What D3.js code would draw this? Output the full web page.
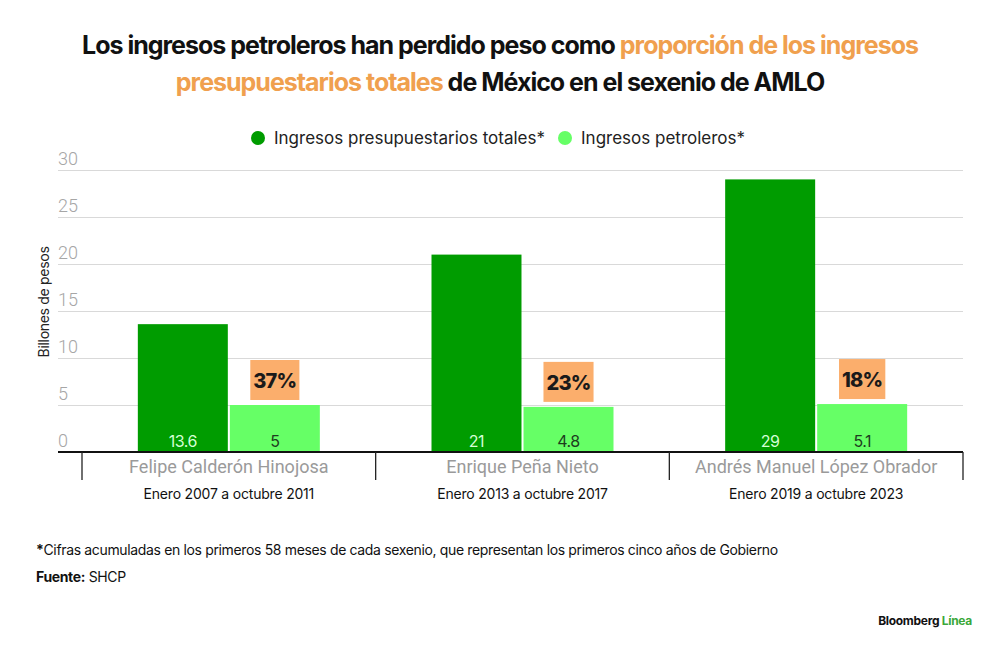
<!DOCTYPE html>
<html>
    <head>
        <meta charset="utf-8">
        <title>Ingresos petroleros</title>
        <style>
            body { margin: 0; background: #fff; font-family: Inter, "Noto Sans", sans-serif; }
            svg { display: block; }
        </style>
        <script src="https://cdnjs.cloudflare.com/ajax/libs/d3/7.8.5/d3.min.js" charset="utf-8"></script>
    </head>
    <body>
        <div id="chart"></div>
        <script>
            // data
            const presidents = ["Felipe Calderón Hinojosa", "Enrique Peña Nieto", "Andrés Manuel López Obrador"];
            const periods = ["Enero 2007 a octubre 2011", "Enero 2013 a octubre 2017", "Enero 2019 a octubre 2023"];
            const seriesNames = ["Ingresos presupuestarios totales*", "Ingresos petroleros*"];
            const totalIncome = [13.6, 21, 29];
            const oilIncome = [5, 4.8, 5.1];
            const oilShare = ["37%", "23%", "18%"];
            const yTicks = [0, 5, 10, 15, 20, 25, 30];

            const w = 1000, h = 650;
            const colors = ["#009c00", "#66ff66"];
            const orange = "#f0a04e";

            const svg = d3.select("#chart").append("svg")
                .attr("width", w)
                .attr("height", h);

            // title (two lines, part of it orange)
            const title = svg.append("text")
                .attr("text-anchor", "middle")
                .style("font-size", "25px")
                .style("font-weight", 700)
                .style("letter-spacing", "-1px");
            const l1 = title.append("tspan").attr("x", 500).attr("y", 54);
            l1.append("tspan").attr("fill", "#111").text("Los ingresos petroleros han perdido peso como ");
            l1.append("tspan").attr("fill", orange).text("proporción de los ingresos");
            const l2 = title.append("tspan").attr("x", 500).attr("y", 91);
            l2.append("tspan").attr("fill", orange).text("presupuestarios totales");
            l2.append("tspan").attr("fill", "#111").text(" de México en el sexenio de AMLO");

            // legend
            const legend = svg.append("g").attr("transform", "translate(258,138)");
            let lx = 0;
            seriesNames.forEach((name, i) => {
                const g = legend.append("g").attr("transform", "translate(" + lx + ",0)");
                g.append("circle").attr("r", 7).attr("fill", colors[i]);
                const t = g.append("text")
                    .attr("x", 16).attr("y", 6)
                    .style("font-size", "17px")
                    .style("letter-spacing", "0px")
                    .attr("fill", "#222")
                    .text(name);
                lx += 16 + t.node().getComputedTextLength() + 20;
            });

            // scales
            const x = d3.scaleBand().domain(presidents).range([82, 963]);
            const groupW = 182;
            const xSub = d3.scaleBand().domain(seriesNames).range([0, groupW]).paddingInner(0.022);
            const y = d3.scaleLinear().domain([0, 30]).range([452, 170]);

            // gridlines + tick labels
            const yAxis = d3.axisLeft(y).tickValues(yTicks).tickSize(-(963 - 58)).tickFormat(d3.format("d"));
            const gy = svg.append("g").attr("transform", "translate(58,0)").call(yAxis);
            gy.select(".domain").remove();
            gy.selectAll(".tick line").attr("stroke", "#d9d9d9").attr("stroke-width", 1.2);
            gy.selectAll(".tick text")
                .attr("x", 0).attr("dy", "-6px")
                .attr("text-anchor", "start")
                .attr("fill", "#a6a6a6")
                .style("font-size", "18px")
                .style("font-weight", 300)
                .style("font-family", "Roboto, sans-serif");

            // y axis title
            svg.append("text")
                .attr("transform", "translate(49,302) rotate(-90)")
                .attr("text-anchor", "middle")
                .style("font-size", "14px")
                .style("letter-spacing", "-0.3px")
                .attr("fill", "#222")
                .text("Billones de pesos");

            // bars
            const groups = svg.selectAll(".grp")
                .data(presidents)
                .enter()
                .append("g")
                .attr("class", "grp")
                .attr("transform", d => "translate(" + (x(d) + (x.bandwidth() - groupW) / 2) + ",0)");

            const barData = (d, i) => [
                {s: seriesNames[0], v: totalIncome[i], c: colors[0], lc: "#d5ffd5"},
                {s: seriesNames[1], v: oilIncome[i], c: colors[1], lc: "#1e3d1e"}
            ];

            groups.selectAll("rect.bar")
                .data(barData)
                .enter()
                .append("rect")
                .attr("class", "bar")
                .attr("x", d => xSub(d.s))
                .attr("y", d => y(d.v))
                .attr("width", xSub.bandwidth())
                .attr("height", d => y(0) - y(d.v))
                .attr("fill", d => d.c);

            groups.selectAll("text.val")
                .data(barData)
                .enter()
                .append("text")
                .attr("class", "val")
                .attr("x", d => xSub(d.s) + xSub.bandwidth() / 2)
                .attr("y", y(0) - 5)
                .attr("text-anchor", "middle")
                .attr("fill", d => d.lc)
                .style("font-size", "16px")
                .style("letter-spacing", "-0.5px")
                .text(d => d.v);

            // share boxes above the oil bars
            groups.each(function(d, i) {
                const g = d3.select(this);
                const cx = xSub(seriesNames[1]) + xSub.bandwidth() / 2;
                const top = y(oilIncome[i]) - 5;
                const t = g.append("text")
                    .attr("x", cx)
                    .attr("y", top - 12)
                    .attr("text-anchor", "middle")
                    .attr("fill", "#1a1a1a")
                    .style("font-size", "20px")
                    .style("font-weight", 800)
                    .style("letter-spacing", "-0.8px")
                    .text(oilShare[i]);
                const bw = t.node().getComputedTextLength() + 6;
                g.insert("rect", "text")
                    .attr("x", cx - bw / 2)
                    .attr("y", top - 40)
                    .attr("width", bw)
                    .attr("height", 40)
                    .attr("fill", "#fbae6c");
            });

            // baseline + category separators
            svg.append("line")
                .attr("x1", 58).attr("x2", 963)
                .attr("y1", y(0)).attr("y2", y(0))
                .attr("stroke", "#111").attr("stroke-width", 2);
            const seps = presidents.map(p => x(p)).concat([x.range()[1]]);
            svg.selectAll(".sep")
                .data(seps)
                .enter()
                .append("line")
                .attr("class", "sep")
                .attr("x1", d => d).attr("x2", d => d)
                .attr("y1", y(0)).attr("y2", 480)
                .attr("stroke", "#222").attr("stroke-width", 1.3);

            svg.selectAll(".cat")
                .data(presidents)
                .enter()
                .append("text")
                .attr("class", "cat")
                .attr("x", d => x(d) + x.bandwidth() / 2)
                .attr("y", 473)
                .attr("text-anchor", "middle")
                .attr("fill", "#9a9a9a")
                .style("font-size", "18px")
                .style("font-family", "Roboto, sans-serif")
                .text(d => d);

            svg.selectAll(".period")
                .data(periods)
                .enter()
                .append("text")
                .attr("class", "period")
                .attr("x", (d, i) => x(presidents[i]) + x.bandwidth() / 2)
                .attr("y", 499)
                .attr("text-anchor", "middle")
                .attr("fill", "#111")
                .style("font-size", "14px")
                .style("letter-spacing", "-0.2px")
                .text(d => d);

            // footnotes
            const note = svg.append("text").attr("x", 36).attr("y", 555)
                .style("font-size", "14px").style("letter-spacing", "-0.35px").attr("fill", "#111");
            note.append("tspan").style("font-weight", 700).text("*");
            note.append("tspan").text("Cifras acumuladas en los primeros 58 meses de cada sexenio, que representan los primeros cinco años de Gobierno");
            const src = svg.append("text").attr("x", 36).attr("y", 582)
                .style("font-size", "14px").style("letter-spacing", "-0.35px").attr("fill", "#111");
            src.append("tspan").style("font-weight", 700).text("Fuente:");
            src.append("tspan").text(" SHCP");

            const brand = svg.append("text").attr("x", 972).attr("y", 625)
                .attr("text-anchor", "end")
                .style("font-size", "12px").style("font-weight", 700).style("letter-spacing", "-0.3px");
            brand.append("tspan").attr("fill", "#111").text("Bloomberg ");
            brand.append("tspan").attr("fill", "#3aa83a").text("Línea");
        </script>
    </body>
</html>
